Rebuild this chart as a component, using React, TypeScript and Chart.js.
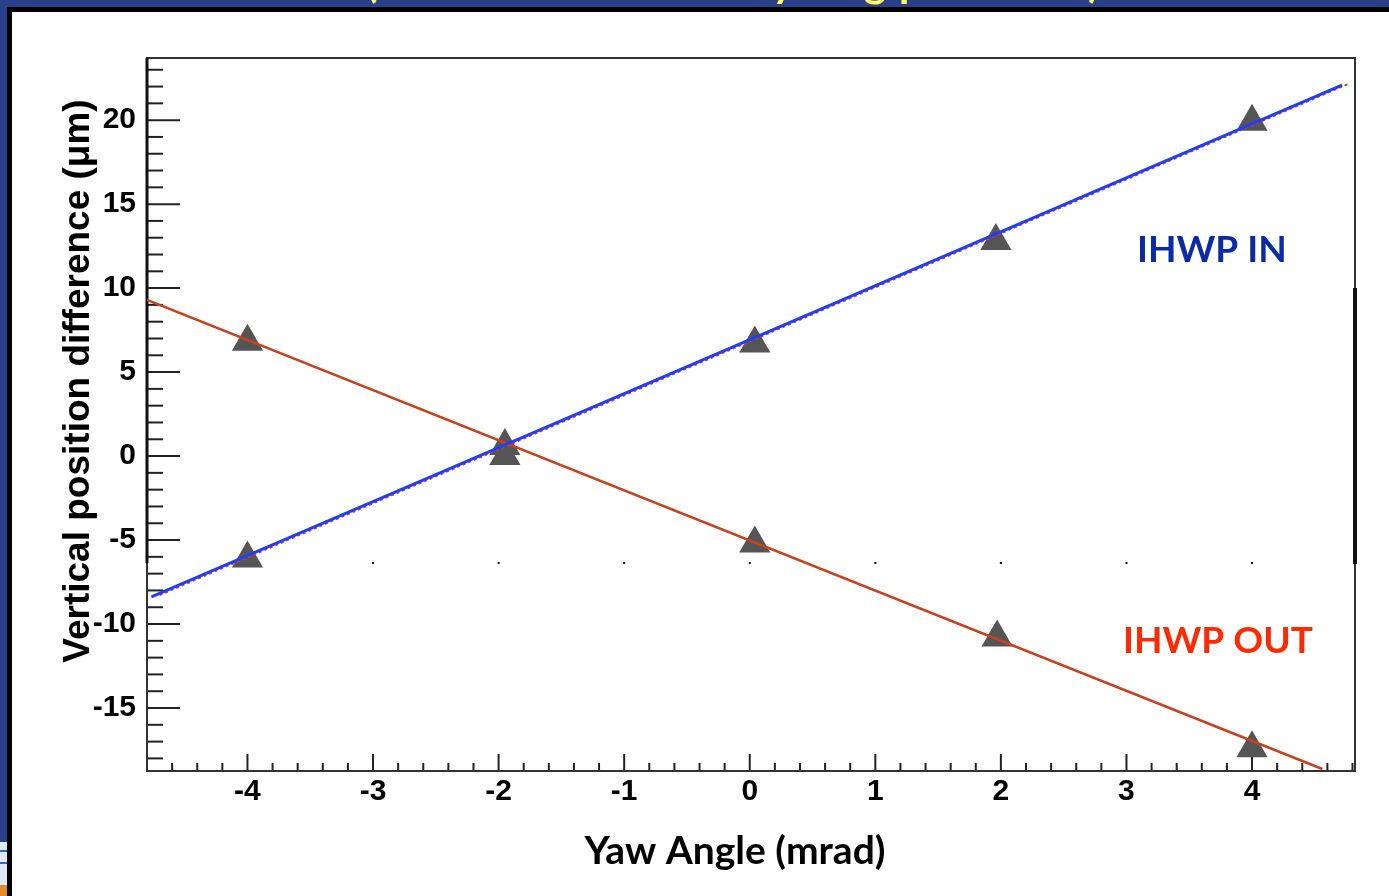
import React, { useEffect, useRef } from "react";
import { Chart, registerables } from "chart.js";

Chart.register(...registerables);

// ---- data ----
const yawIn = [-4, -1.95, 0.04, 1.96, 4];
const diffIn = [-6.1, 0.0, 6.7, 12.8, 19.9];
const yawOut = [-4, -1.95, 0.04, 1.97, 4];
const diffOut = [6.8, 0.6, -5.2, -10.8, -17.4];

const fitInX = [-4.765, 4.717];
const fitInY = [-8.39, 22.08];
const fitInShadowX = [-4.7, 4.78];
const fitInShadowY = [-8.28, 22.2];
const fitOutX = [-4.8, 4.56];
const fitOutY = [9.3, -18.63];

const xTickValues = [-4, -3, -2, -1, 0, 1, 2, 3, 4];
const yTickValues = [-15, -10, -5, 0, 5, 10, 15, 20];
const xRange = [-4.8, 4.82];
const yRange = [-18.75, 23.7];

const xTitle = "Yaw Angle (mrad)";
const yTitle = "Vertical position difference (\u03bcm)";
const labelIn = "IHWP IN";
const labelOut = "IHWP OUT";

const toPts = (xs: number[], ys: number[]) => xs.map((x, i) => ({ x, y: ys[i] }));

const decorPlugin = {
  id: "decor",
  beforeDraw(chart: any) {
    const { ctx, width, height } = chart;
    ctx.save();
    ctx.fillStyle = "#28418a";
    ctx.fillRect(0, 0, width, height);
    // yellow title fragments (cut off at top)
    ctx.save();
    ctx.beginPath();
    ctx.rect(0, 0, width, 7);
    ctx.clip();
    ctx.fillStyle = "#ffff66";
    ctx.font = "bold 42px Lato";
    ctx.textBaseline = "alphabetic";
    ctx.fillText("(", 366, -3);
    ctx.fillText("y", 772, -3);
    ctx.fillText("g", 864, -3);
    ctx.fillText("p", 899, -3);
    ctx.fillText(")", 1088, -3);
    ctx.restore();
    // bottom-left logo remnant
    ctx.fillStyle = "#dfe9f5";
    ctx.fillRect(0, 842, 7, 44);
    ctx.fillStyle = "#2a6fb8";
    ctx.fillRect(0, 850, 7, 2);
    ctx.fillRect(0, 862, 7, 2);
    ctx.fillStyle = "#e8892a";
    ctx.fillRect(0, 885, 7, 11);
    ctx.fillStyle = "#000";
    ctx.fillRect(7, 7, width - 7, height - 7);
    ctx.fillStyle = "#fff";
    ctx.fillRect(12, 12, width - 12, height - 12);
    ctx.restore();
  },
  beforeDatasetsDraw(chart: any) {
    const { ctx, chartArea } = chart;
    const xs = chart.scales.x;
    const ys = chart.scales.y;
    const { left, right, top, bottom } = chartArea;
    ctx.save();
    ctx.strokeStyle = "#222";
    ctx.lineWidth = 2;
    // x ticks (inward from bottom)
    for (let i = -24; i <= 24; i++) {
      const v = i / 5;
      const px = xs.getPixelForValue(v);
      if (px < left + 1 || px > right - 1) continue;
      const len = i % 5 === 0 ? 17 : 8;
      ctx.beginPath();
      ctx.moveTo(px, bottom);
      ctx.lineTo(px, bottom - len);
      ctx.stroke();
    }
    // y ticks (inward from left)
    for (let i = -18; i <= 23; i++) {
      const py = ys.getPixelForValue(i);
      if (py < top + 1 || py > bottom - 1) continue;
      const len = i % 5 === 0 ? 33 : 16;
      ctx.beginPath();
      ctx.moveTo(left, py);
      ctx.lineTo(left + len, py);
      ctx.stroke();
    }
    // frame
    ctx.strokeStyle = "#333";
    ctx.lineWidth = 2;
    ctx.strokeRect(left, top, right - left, bottom - top);
    // compositing remnants
    ctx.fillStyle = "#111";
    ctx.fillRect(right - 2, 288, 4, 276);
    ctx.fillRect(left - 1.5, top, 3, 563 - top);
    for (let k = 1; k < xTickValues.length; k++) {
      const px = xs.getPixelForValue(xTickValues[k]);
      ctx.fillRect(px - 1, 562, 2, 2);
    }
    ctx.restore();
  },
  afterDraw(chart: any) {
    const { ctx } = chart;
    ctx.save();
    ctx.fillStyle = "#000";
    ctx.textAlign = "center";
    ctx.textBaseline = "alphabetic";
    ctx.font = 'bold 37px "Liberation Sans", Arial, sans-serif';
    ctx.translate(89, 381);
    ctx.rotate(-Math.PI / 2);
    ctx.fillText(yTitle, 0, 0);
    ctx.restore();

    ctx.save();
    ctx.fillStyle = "#000";
    ctx.textAlign = "center";
    ctx.textBaseline = "alphabetic";
    ctx.font = "bold 39px Lato";
    ctx.fillText(xTitle, 735, 864);
    ctx.textAlign = "left";
    ctx.font = "bold 37px Lato";
    ctx.fillStyle = "#0b2aa8";
    ctx.fillText(labelIn, 1137, 262);
    ctx.fillStyle = "#ff2a00";
    ctx.fillText(labelOut, 1123, 653);
    ctx.restore();
  },
};

const tickFont = { family: '"Liberation Sans", Arial, sans-serif', weight: "bold" as const, size: 30 };

export default function App() {
  const ref = useRef<HTMLCanvasElement | null>(null);
  useEffect(() => {
    if (!ref.current) return;
    const chart = new Chart(ref.current, {
      type: "scatter",
      data: {
        datasets: [
          {
            label: "fit in",
            data: toPts(fitInX, fitInY),
            showLine: true,
            borderColor: "#1f3cff",
            borderWidth: 3,
            pointRadius: 0,
          },
          {
            label: "fit in shadow",
            data: toPts(fitInShadowX, fitInShadowY),
            showLine: true,
            borderColor: "#e0401c",
            borderWidth: 2,
            borderDash: [3, 3],
            pointRadius: 0,
          },
          {
            label: "fit out",
            data: toPts(fitOutX, fitOutY),
            showLine: true,
            borderColor: "#c8421f",
            borderWidth: 2.5,
            pointRadius: 0,
          },
          {
            label: labelIn,
            data: toPts(yawIn, diffIn),
            pointStyle: "triangle",
            pointRadius: 18,
            backgroundColor: "#555555",
            borderWidth: 0,
          },
          {
            label: labelOut,
            data: toPts(yawOut, diffOut),
            pointStyle: "triangle",
            pointRadius: 18,
            backgroundColor: "#555555",
            borderWidth: 0,
          },
        ],
      } as any,
      options: {
        animation: false,
        responsive: false,
        maintainAspectRatio: false,
        layout: { padding: { top: 58, right: 34, left: 0, bottom: 0 } },
        plugins: {
          legend: { display: false },
          tooltip: { enabled: false },
          title: { display: false },
        },
        scales: {
          x: {
            type: "linear",
            min: xRange[0],
            max: xRange[1],
            afterBuildTicks: (s: any) => {
              s.ticks = xTickValues.map((v) => ({ value: v }));
            },
            afterFit: (s: any) => {
              s.height = 125;
            },
            grid: { display: false, drawTicks: false },
            border: { display: false },
            ticks: {
              font: tickFont,
              color: "#000",
              padding: 3,
              maxRotation: 0,
              autoSkip: false,
              callback: (v: any) => String(v),
            },
          },
          y: {
            type: "linear",
            min: yRange[0],
            max: yRange[1],
            afterBuildTicks: (s: any) => {
              s.ticks = yTickValues.map((v) => ({ value: v }));
            },
            afterFit: (s: any) => {
              s.width = 147;
            },
            grid: { display: false, drawTicks: false },
            border: { display: false },
            ticks: {
              font: tickFont,
              color: "#000",
              padding: 11,
              autoSkip: false,
              callback: (v: any) => String(v),
            },
          },
        },
      } as any,
      plugins: [decorPlugin],
    });
    return () => chart.destroy();
  }, []);

  return (
    <div style={{ position: "fixed", left: 0, top: 0, width: 1389, height: 896 }}>
      <canvas ref={ref} width={1389} height={896} style={{ display: "block", width: 1389, height: 896 }} />
    </div>
  );
}
